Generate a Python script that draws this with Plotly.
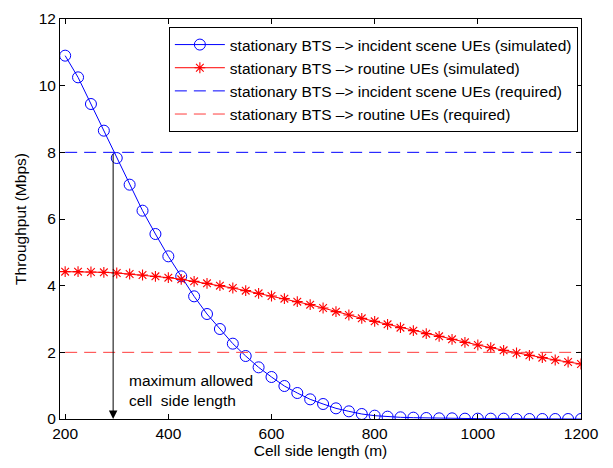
import plotly.graph_objects as go

x_vals = [200 + 25 * i for i in range(41)]
incident_sim = [10.9, 10.25, 9.45, 8.65, 7.83, 7.03, 6.25, 5.55, 4.88, 4.28,
                3.68, 3.15, 2.70, 2.26, 1.89, 1.55, 1.26, 0.99, 0.78, 0.59,
                0.45, 0.32, 0.23, 0.15, 0.10, 0.07, 0.05, 0.04, 0.03, 0.02,
                0.02, 0.01, 0.01, 0.01, 0.01, 0.0, 0.0, 0.0, 0.0, 0.0, 0.0]
routine_sim = [4.42, 4.42, 4.41, 4.40, 4.38, 4.35, 4.32, 4.28, 4.24, 4.19,
               4.13, 4.07, 4.00, 3.93, 3.85, 3.77, 3.69, 3.61, 3.52, 3.43,
               3.33, 3.22, 3.12, 3.02, 2.93, 2.84, 2.74, 2.65, 2.56, 2.48,
               2.39, 2.30, 2.22, 2.14, 2.06, 1.98, 1.91, 1.84, 1.77, 1.71, 1.65]
incident_req = 8
routine_req = 2
x_range = [200, 1200]
max_len = 293

names = ["stationary BTS \u2013> incident scene UEs (simulated)",
         "stationary BTS \u2013> routine UEs (simulated)",
         "stationary BTS \u2013> incident scene UEs (required)",
         "stationary BTS \u2013> routine UEs (required)"]

FONT = "Liberation Sans, Arial, Helvetica"
FS = 15.5

fig = go.Figure()
fig.add_trace(go.Scatter(x=x_vals, y=incident_sim, mode="lines+markers", name=names[0],
                         line=dict(color="#0000FF", width=1),
                         marker=dict(symbol="circle-open", size=11, color="#0000FF", line=dict(width=1))))
fig.add_trace(go.Scatter(x=x_vals, y=routine_sim, mode="lines+markers", name=names[1],
                         line=dict(color="#FF0000", width=1),
                         marker=dict(symbol="asterisk-open", size=9, color="#FF0000",
                                     line=dict(width=1.1, color="#FF0000"))))
fig.add_trace(go.Scatter(x=x_range, y=[incident_req] * 2, mode="lines", name=names[2],
                         line=dict(color="#0000FF", width=1, dash="12px,7px")))
fig.add_trace(go.Scatter(x=x_range, y=[routine_req] * 2, mode="lines", name=names[3],
                         line=dict(color="#FF3C3C", width=1, dash="12px,7px")))

fig.add_annotation(x=max_len, y=0, ax=max_len, ay=incident_req, xref="x", yref="y",
                   axref="x", ayref="y", showarrow=True, arrowhead=2, arrowsize=1.7,
                   arrowwidth=1, arrowcolor="black", text="")
fig.add_annotation(x=320, y=0.85, xref="x", yref="y", text="maximum allowed<br>cell  side length",
                   showarrow=False, xanchor="left", yanchor="middle", align="left",
                   font=dict(size=FS, color="black", family=FONT))

axis_common = dict(showline=True, linecolor="black", linewidth=1, mirror="ticks",
                   ticks="inside", ticklen=5, tickcolor="black", showgrid=False, zeroline=False,
                   tickfont=dict(size=FS, color="black", family=FONT))
fig.update_xaxes(range=[190, 1200], tickvals=[200, 400, 600, 800, 1000, 1200],
                 title=dict(text="Cell side length (m)", font=dict(size=FS, family=FONT), standoff=2),
                 **axis_common)
fig.update_yaxes(range=[0, 12], tickvals=[0, 2, 4, 6, 8, 10, 12],
                 title=dict(text="Throughput (Mbps)", font=dict(size=FS, family=FONT), standoff=8),
                 **axis_common)

fig.update_layout(width=613, height=468, plot_bgcolor="white", paper_bgcolor="white",
                  margin=dict(l=60, r=32, t=10, b=49),
                  font=dict(family=FONT, size=FS, color="black"),
                  showlegend=True,
                  legend=dict(x=0.994, y=0.98, xanchor="right", yanchor="top",
                              bgcolor="white", bordercolor="black", borderwidth=1,
                              font=dict(size=FS, family=FONT), tracegroupgap=0, itemwidth=50))

fig.write_html("out.html", config={"displayModeBar": False},
               post_script="document.body.style.margin='0';document.body.style.overflow='hidden';")
